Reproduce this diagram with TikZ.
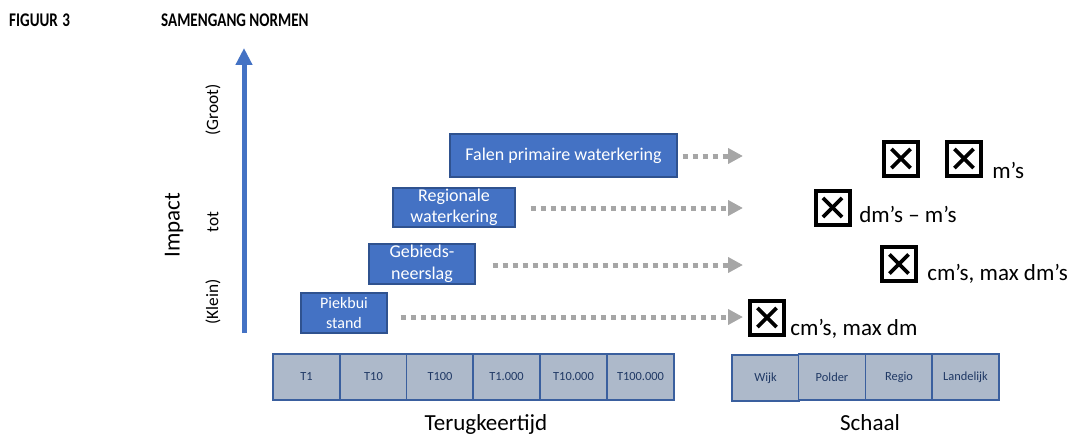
\documentclass[tikz,border=0pt]{standalone}
\usepackage{fontspec}
\setmainfont{Carlito}
\usetikzlibrary{arrows.meta}
\definecolor{axisblue}{HTML}{4472C4}
\definecolor{boxborder}{HTML}{2F528F}
\definecolor{arrowgray}{HTML}{A6A6A6}
\definecolor{cellfill}{HTML}{ADB9CA}
\definecolor{cellborder}{HTML}{3A5F9E}
\definecolor{celltext}{HTML}{1F3864}
\tikzset{
  head/.style={font=\fontsize{14.5}{16}\selectfont\bfseries, anchor=base west, inner sep=0pt, xscale=0.78},
  biglbl/.style={font=\fontsize{17.25}{20}\selectfont, inner sep=0pt},
  axlbl/.style={font=\fontsize{13}{15}\selectfont, rotate=90, inner sep=0pt},
  evbox/.style={draw=boxborder, fill=axisblue, line width=0.8pt, text=white, inner sep=0pt,
    align=center, font=\fontsize{13.5}{16}\selectfont},
  dotarr/.style={draw=arrowgray, line width=3.75pt, dash pattern=on 4.2pt off 3.3pt,
    -{Triangle[length=11.25pt,width=11.25pt,fill=arrowgray]}},
  xbox/.style={draw=black, line width=3pt, minimum size=25.5pt, inner sep=0pt,
    path picture={
      \draw[line width=2.7pt] ([shift={(-7.2pt,-7.2pt)}]path picture bounding box.center)
        -- ([shift={(7.2pt,7.2pt)}]path picture bounding box.center);
      \draw[line width=2.7pt] ([shift={(-7.2pt,7.2pt)}]path picture bounding box.center)
        -- ([shift={(7.2pt,-7.2pt)}]path picture bounding box.center);}},
  xlbl/.style={font=\fontsize{17.25}{20}\selectfont, anchor=base west, inner sep=0pt},
  cell/.style={draw=cellborder, fill=cellfill, line width=0.9pt, minimum width=50.25pt,
    minimum height=34.5pt, inner sep=0pt, text=celltext, font=\fontsize{9.3}{11}\selectfont}
}
\begin{document}
\begin{tikzpicture}[x=0.75pt,y=-0.75pt]
\useasboundingbox (0,0) rectangle (1075,435);
% header
\node[head] (h1) at (9,27) {FIGUUR\hspace{0.3em}3};
\node[head] (h2) at (161,27) {SAMENGANG NORMEN};
% axis
\coordinate (axb) at (244,333);
\coordinate (axt) at (244,48);
\draw[axisblue, line width=3.75pt, -{Triangle[length=12.75pt,width=12pt]}] (axb) -- (axt);
\node[biglbl, rotate=90] (imp) at (174,225) {Impact};
\node[axlbl] (groot) at (213,110) {(Groot)};
\node[axlbl] (tot) at (213,222) {tot};
\node[axlbl] (klein) at (213,302) {(Klein)};
% event boxes
\node[evbox, minimum width=170.25pt, minimum height=32.25pt] (f) at (563.5,155.5) {Falen primaire waterkering};
\node[evbox, minimum width=91.5pt, minimum height=29.25pt] (r) at (454,207.5) {Regionale\\waterkering};
\node[evbox, minimum width=79.5pt, minimum height=30pt, font=\fontsize{13.5}{16.5}\selectfont] (g) at (422,264) {Gebieds-\\neerslag};
\node[evbox, minimum width=64.5pt, minimum height=30pt, font=\fontsize{12}{15}\selectfont] (p) at (344,313) {Piekbui\\stand};
% arrow ends
\coordinate (fe) at (743,156);
\coordinate (re) at (743,208);
\coordinate (ge) at (743,265);
\coordinate (pe) at (743,317);
\draw[dotarr, shorten <=3.75pt] (f.east |- fe) -- (fe);
\draw[dotarr, shorten <=11.25pt] (r.east |- re) -- (re);
\draw[dotarr, shorten <=12.75pt] (g.east |- ge) -- (ge);
\draw[dotarr, shorten <=9.75pt] (p.east |- pe) -- (pe);
% x boxes
\node[xbox] (x1) at (901,158.5) {};
\node[xbox] (x2) at (964,158.5) {};
\node[xlbl] (l1) at (992,178) {m’s};
\node[xbox] (x3) at (832.5,207.5) {};
\node[xlbl] (l3) at (859,222) {dm’s – m’s};
\node[xbox] (x4) at (899,264) {};
\node[xlbl] (l4) at (927,280) {cm’s, max dm’s};
\node[xbox] (x5) at (767,317.5) {};
\node[xlbl] (l5) at (790,335) {cm’s, max dm};
% return period cells
\node[cell] (t1) at (306.5,377) {T1};
\node[cell] (t2) at (373.5,377) {T10};
\node[cell] (t3) at (440,377) {T100};
\node[cell] (t4) at (506.5,377) {T1.000};
\node[cell] (t5) at (573.5,377) {T10.000};
\node[cell] (t6) at (640.5,377) {T100.000};
\node[biglbl, anchor=base] (tk) at (486,430) {Terugkeertijd};
% scale cells
\node[cell] (s1) at (765.5,378) {Wijk};
\node[cell] (s2) at (832,377) {Polder};
\node[cell] (s3) at (899,377) {Regio};
\node[cell] (s4) at (965.5,377) {Landelijk};
\node[biglbl, anchor=base] (sc) at (870,430) {Schaal};
\end{tikzpicture}
\end{document}
